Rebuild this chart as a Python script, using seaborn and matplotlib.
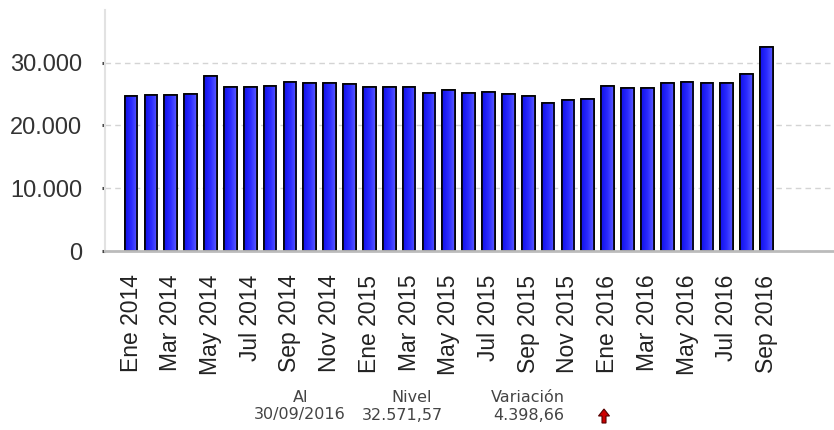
import matplotlib
matplotlib.use("Agg")
import matplotlib.pyplot as plt
import seaborn as sns
import pandas as pd
import numpy as np
from matplotlib.patches import FancyArrow
from matplotlib.colors import LinearSegmentedColormap

# ---- data ----
month_names = ["Ene", "Feb", "Mar", "Abr", "May", "Jun", "Jul", "Ago", "Sep", "Oct", "Nov", "Dic"]
years = [2014, 2015, 2016]
months = [f"{m} {y}" for y in years for m in month_names][:33]
values = [24700, 24900, 24900, 25000, 27950, 26200, 26200, 26300, 26850, 26750, 26750, 26650,
          26200, 26200, 26150, 25100, 25700, 25200, 25300, 25000, 24700, 23650, 24000, 24150,
          26250, 25950, 26050, 26750, 26850, 26750, 26750, 28172.91, 32571.57]
yticks = [0, 10000, 20000, 30000]
ytick_labels = ["0", "10.000", "20.000", "30.000"]
footer_headers = ["Al", "Nivel", "Variación"]
footer_values = ["30/09/2016", "32.571,57", "4.398,66"]

df = pd.DataFrame({"mes": months, "valor": values})

sns.set_theme(style="white")
plt.rcParams["font.family"] = ["Liberation Sans", "DejaVu Sans"]

fig = plt.figure(figsize=(8.34, 4.30), dpi=100)
ax = fig.add_axes([105 / 834, 1 - 251 / 430, 1 - 105 / 834, (251 - 10) / 430])

sns.barplot(data=df, x="mes", y="valor", color="#2e2eff", saturation=1, width=0.64,
            edgecolor="black", linewidth=1.2, ax=ax, zorder=3)

ax.set_xlim(-1.31, 35.4)
ax.set_ylim(0, 38400)
ax.set_xlabel("")
ax.set_ylabel("")

# gradient fill inside each bar (clipped to the bar patch)
cmap = LinearSegmentedColormap.from_list("g", ["#1212e8", "#2a2aff", "#5a5aff"])
grad = np.linspace(0, 1, 64).reshape(1, -1)
for p in list(ax.patches):
    x0, y0 = p.get_x(), p.get_y()
    w, h = p.get_width(), p.get_height()
    im = ax.imshow(grad, cmap=cmap, extent=[x0, x0 + w, y0, y0 + h], aspect="auto",
                   zorder=3.5, interpolation="bilinear")
    im.set_clip_path(p)
    p.set_zorder(3)
    edge = plt.Rectangle((x0, y0), w, h, fill=False, edgecolor="black", linewidth=1.2, zorder=3.6)
    ax.add_patch(edge)
ax.set_xlim(-1.31, 35.4)
ax.set_ylim(0, 38400)

ax.set_yticks(yticks)
ax.set_yticklabels(ytick_labels, fontsize=17, color="#333333")
ax.set_xticks(range(0, len(months), 2))
ax.set_xticklabels(months[::2], rotation=90, fontsize=16.5, color="#222222")
ax.tick_params(axis="y", length=2.5, width=2.2, color="#444444", pad=14, left=True)
ax.tick_params(axis="x", length=0, pad=17)

ax.yaxis.grid(True, linestyle=(0, (4, 3)), color="#d4d4d4", linewidth=1, zorder=0)
ax.xaxis.grid(False)
for s in ["top", "right"]:
    ax.spines[s].set_visible(False)
ax.spines["left"].set_color("#e2e2e2")
ax.spines["left"].set_linewidth(1.5)
ax.spines["bottom"].set_color("#bbbbbb")
ax.spines["bottom"].set_linewidth(2)
ax.spines["bottom"].set_zorder(4)

# footer
ov = fig.add_axes([0, 0, 1, 1], facecolor="none")
ov.set_xlim(0, 834)
ov.set_ylim(430, 0)
ov.axis("off")
hx = [301, 412, 528]
vx = [300, 402, 529]
for x, t in zip(hx, footer_headers):
    ov.text(x, 397, t, ha="center", va="center", fontsize=11.5, color="#444444", family="DejaVu Sans")
for x, t in zip(vx, footer_values):
    ov.text(x, 415, t, ha="center", va="center", fontsize=11.5, color="#444444", family="DejaVu Sans")
ov.add_patch(FancyArrow(604, 423, 0, -14, width=4, head_width=11, head_length=7,
                        length_includes_head=True, facecolor="#cc0000", edgecolor="#550000", linewidth=0.8))

fig.savefig("out.png", dpi=100)
